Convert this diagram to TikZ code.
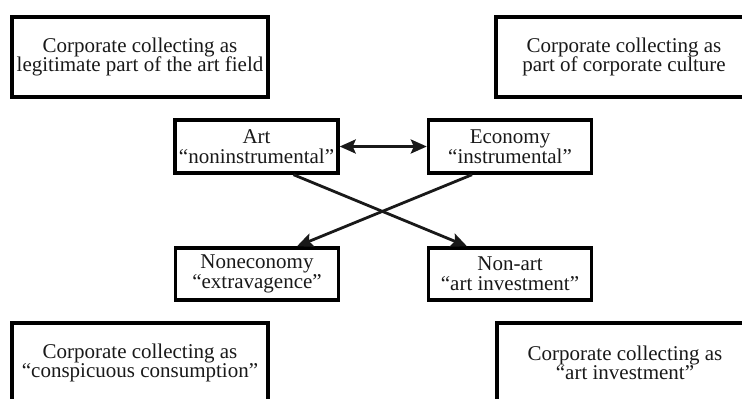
\documentclass[tikz,border=0pt]{standalone}
\usepackage{fontspec}
\setmainfont{Liberation Serif}
\usetikzlibrary{arrows.meta}
\begin{document}
\begin{tikzpicture}[x=1pt,y=-1pt,
  outerbox/.style={draw=black, line width=3.4pt, minimum width=256pt, minimum height=80pt,
    inner sep=0pt, align=center, text=black!90, font=\fontsize{21}{19.5}\selectfont},
  innerbox/.style={draw=black, line width=3.4pt, minimum width=163pt, minimum height=53pt,
    inner sep=0pt, align=center, text=black!90, font=\fontsize{21}{20}\selectfont},
  tip/.style={Stealth[length=16pt,width=14pt,inset=3pt]},
  conn/.style={line width=2.8pt, draw=black!90, -{Stealth[length=16pt,width=14pt,inset=3pt]}},
  dconn/.style={line width=2.8pt, draw=black!90,
    {Stealth[length=16pt,width=14pt,inset=3pt]}-{Stealth[length=16pt,width=14pt,inset=3pt]}}
]
\useasboundingbox (0,0) rectangle (742,399);
\begin{scope}
\clip (0,0) rectangle (742,399);
% quadrant labels
\node[outerbox] (tl) at (140,57) {Corporate collecting as\\legitimate part of the art field};
\node[outerbox] (tr) at (624,57) {Corporate collecting as\\part of corporate culture};
\node[outerbox] (bl) at (140,363) {Corporate collecting as\\``conspicuous consumption''};
\node[outerbox] (br) at (625,363) {Corporate collecting as\\``art investment''};
% central scheme
\node[innerbox] (art) at (256.5,146.5) {Art\\``noninstrumental''};
\node[innerbox] (eco) at (510,146.5) {Economy\\``instrumental''};
\node[innerbox, minimum height=52pt] (nonec) at (257,274) {Noneconomy\\``extravagence''};
\node[innerbox, minimum height=52pt] (nonart) at (510,274) {Non-art\\``art investment''};
\end{scope}
\draw[dconn] (art.east) -- (eco.west);
\draw[conn] ([xshift=37pt]art.south) -- ([xshift=-43pt]nonart.north);
\draw[conn] ([xshift=-38pt]eco.south) -- ([xshift=40pt]nonec.north);
\end{tikzpicture}
\end{document}
